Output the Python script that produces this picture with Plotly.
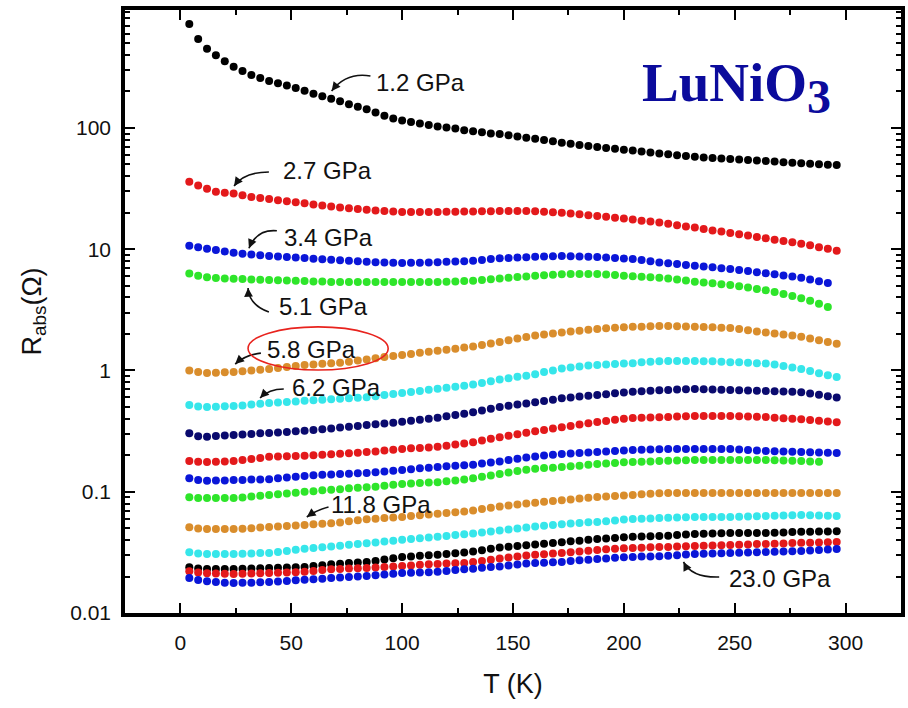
import math
import plotly.graph_objects as go

# Temperature grid (K) shared by all pressure runs
temperature_K = [
    4, 8, 12, 16, 20, 24, 28, 32, 36, 40,
    44, 48, 52, 56, 60, 64, 68, 72, 76, 80,
    84, 88, 92, 96, 100, 104, 108, 112, 116, 120,
    124, 128, 132, 136, 140, 144, 148, 152, 156, 160,
    164, 168, 172, 176, 180, 184, 188, 192, 196, 200,
    204, 208, 212, 216, 220, 224, 228, 232, 236, 240,
    244, 248, 252, 256, 260, 264, 268, 272, 276, 280,
    284, 288, 292, 296,
]

# Resistance R_abs (Ohm), one list per pressure run, highest curve first
r_1p2 = [
    720, 542, 450, 397, 355, 320, 295, 274, 258, 244,
    234, 224, 214, 203, 192, 183, 174, 166, 157, 150,
    143, 134, 126, 120, 115, 112, 109, 106, 103, 101,
    99, 96, 94, 92, 90, 89, 87, 85, 83, 81.6,
    79.6, 77.6, 75.6, 74, 72.5, 71, 69.7, 68.5, 67.4, 66.2,
    65.2, 64, 62.8, 61.6, 60.6, 59.7, 58.8, 57.9, 57.2, 56.6,
    56, 55.5, 54.9, 54.4, 53.9, 53.3, 52.8, 52.2, 51.7, 51.2,
    50.7, 50.2, 49.8, 49.4,
]
r_2p7 = [
    36, 33.5, 31.5, 29.8, 29.2, 28.8, 27.9, 27, 26.4, 25.9,
    25.4, 24.9, 24.4, 23.9, 23.4, 22.9, 22.5, 22.1, 21.8, 21.5,
    21.2, 20.9, 20.7, 20.5, 20.3, 20.3, 20.3, 20.3, 20.3, 20.4,
    20.4, 20.5, 20.5, 20.6, 20.6, 20.7, 20.7, 20.7, 20.7, 20.6,
    20.4, 20.2, 20, 19.7, 19.4, 19.1, 18.8, 18.5, 18.2, 17.9,
    17.6, 17.2, 16.9, 16.6, 16.2, 15.8, 15.4, 15.1, 14.7, 14.3,
    14, 13.6, 13.3, 13, 12.6, 12.3, 12, 11.7, 11.4, 11.1,
    10.8, 10.4, 10.1, 9.7,
]
r_3p4 = [
    10.7, 10.4, 10.1, 9.85, 9.6, 9.35, 9.2, 9.05, 8.92, 8.79,
    8.7, 8.62, 8.53, 8.45, 8.36, 8.27, 8.18, 8.11, 8.03, 7.95,
    7.87, 7.82, 7.77, 7.73, 7.71, 7.72, 7.74, 7.77, 7.82, 7.87,
    7.92, 7.97, 8.05, 8.17, 8.29, 8.41, 8.47, 8.53, 8.6, 8.65,
    8.7, 8.74, 8.78, 8.77, 8.73, 8.68, 8.63, 8.55, 8.47, 8.39,
    8.3, 8.14, 7.97, 7.79, 7.65, 7.54, 7.42, 7.31, 7.2, 7.09,
    6.98, 6.87, 6.74, 6.6, 6.47, 6.34, 6.21, 6.08, 5.96, 5.82,
    5.64, 5.45, 5.27, None,
]
r_5p1 = [
    6.3, 6.05, 5.87, 5.8, 5.75, 5.7, 5.67, 5.63, 5.6, 5.57,
    5.54, 5.52, 5.49, 5.46, 5.43, 5.41, 5.38, 5.37, 5.37, 5.37,
    5.37, 5.37, 5.37, 5.37, 5.37, 5.37, 5.37, 5.37, 5.38, 5.4,
    5.43, 5.46, 5.5, 5.58, 5.66, 5.74, 5.82, 5.89, 5.97, 6.04,
    6.11, 6.17, 6.23, 6.25, 6.25, 6.25, 6.25, 6.2, 6.12, 6.05,
    5.99, 5.93, 5.87, 5.82, 5.74, 5.63, 5.51, 5.4, 5.31, 5.23,
    5.15, 5.07, 4.95, 4.83, 4.7, 4.58, 4.43, 4.27, 4.11, 3.95,
    3.76, 3.55, 3.34, None,
]
r_5p8 = [
    1.0, 0.97, 0.955, 0.96, 0.965, 0.97, 0.985, 1.0, 1.015, 1.03,
    1.05, 1.07, 1.09, 1.11, 1.12, 1.135, 1.145, 1.16, 1.18, 1.21,
    1.235, 1.26, 1.29, 1.315, 1.34, 1.37, 1.4, 1.43, 1.455, 1.48,
    1.51, 1.545, 1.58, 1.62, 1.67, 1.72, 1.78, 1.84, 1.89, 1.94,
    1.98, 2.02, 2.06, 2.1, 2.13, 2.17, 2.2, 2.23, 2.25, 2.27,
    2.29, 2.3, 2.32, 2.33, 2.33, 2.32, 2.31, 2.29, 2.28, 2.27,
    2.25, 2.24, 2.2, 2.15, 2.1, 2.06, 2.02, 1.98, 1.94, 1.9,
    1.84, 1.78, 1.72, 1.66,
]
r_6p2 = [
    0.52, 0.505, 0.5, 0.503, 0.506, 0.509, 0.515, 0.523, 0.532, 0.54,
    0.545, 0.55, 0.556, 0.562, 0.568, 0.574, 0.58, 0.585, 0.591, 0.597,
    0.603, 0.614, 0.627, 0.64, 0.653, 0.666, 0.679, 0.693, 0.706, 0.72,
    0.735, 0.75, 0.768, 0.79, 0.815, 0.843, 0.865, 0.886, 0.907, 0.93,
    0.97, 1.0, 1.04, 1.06, 1.08, 1.1, 1.11, 1.12, 1.13, 1.14,
    1.15, 1.17, 1.18, 1.19, 1.2, 1.2, 1.2, 1.2, 1.19, 1.19,
    1.18, 1.17, 1.17, 1.16, 1.15, 1.14, 1.12, 1.09, 1.06, 1.03,
    0.99, 0.95, 0.915, 0.885,
]
r_run07 = [
    0.303, 0.287, 0.284, 0.288, 0.291, 0.294, 0.297, 0.3, 0.303, 0.305,
    0.308, 0.311, 0.315, 0.318, 0.323, 0.328, 0.333, 0.338, 0.344, 0.349,
    0.355, 0.36, 0.366, 0.371, 0.377, 0.385, 0.393, 0.4, 0.408, 0.419,
    0.429, 0.44, 0.453, 0.468, 0.484, 0.5, 0.511, 0.523, 0.534, 0.546,
    0.56, 0.575, 0.59, 0.6, 0.609, 0.618, 0.628, 0.638, 0.648, 0.658,
    0.667, 0.675, 0.682, 0.688, 0.692, 0.696, 0.7, 0.703, 0.7, 0.697,
    0.694, 0.69, 0.687, 0.683, 0.68, 0.677, 0.674, 0.67, 0.667, 0.66,
    0.645, 0.63, 0.612, 0.6,
]
r_run08 = [
    0.179, 0.177, 0.176, 0.177, 0.178, 0.179, 0.183, 0.186, 0.19, 0.194,
    0.195, 0.196, 0.197, 0.198, 0.2, 0.202, 0.204, 0.206, 0.208, 0.21,
    0.213, 0.215, 0.219, 0.222, 0.225, 0.228, 0.23, 0.232, 0.235, 0.24,
    0.245, 0.25, 0.256, 0.264, 0.273, 0.282, 0.29, 0.298, 0.307, 0.315,
    0.323, 0.332, 0.34, 0.349, 0.358, 0.367, 0.376, 0.384, 0.392, 0.4,
    0.406, 0.408, 0.41, 0.412, 0.414, 0.417, 0.42, 0.422, 0.422, 0.422,
    0.422, 0.422, 0.42, 0.417, 0.415, 0.413, 0.408, 0.404, 0.4, 0.396,
    0.39, 0.385, 0.379, 0.374,
]
r_run09 = [
    0.129, 0.125, 0.123, 0.124, 0.124, 0.125, 0.125, 0.126, 0.126, 0.127,
    0.129, 0.131, 0.133, 0.135, 0.137, 0.138, 0.139, 0.14, 0.141, 0.142,
    0.143, 0.145, 0.147, 0.149, 0.151, 0.153, 0.156, 0.158, 0.16, 0.162,
    0.164, 0.165, 0.167, 0.171, 0.174, 0.178, 0.183, 0.187, 0.192, 0.195,
    0.199, 0.202, 0.205, 0.207, 0.209, 0.211, 0.213, 0.215, 0.217, 0.219,
    0.221, 0.222, 0.223, 0.224, 0.225, 0.225, 0.225, 0.225, 0.225, 0.225,
    0.225, 0.225, 0.223, 0.221, 0.219, 0.217, 0.216, 0.215, 0.214, 0.213,
    0.212, 0.211, 0.21, 0.209,
]
r_run10 = [
    0.09, 0.0888, 0.0887, 0.0887, 0.0887, 0.0887, 0.0897, 0.0912, 0.0926, 0.094,
    0.0954, 0.0968, 0.0982, 0.0998, 0.101, 0.103, 0.104, 0.105, 0.107, 0.108,
    0.109, 0.11, 0.112, 0.114, 0.116, 0.117, 0.118, 0.119, 0.12, 0.122,
    0.124, 0.126, 0.129, 0.133, 0.136, 0.14, 0.144, 0.148, 0.152, 0.155,
    0.157, 0.158, 0.16, 0.162, 0.164, 0.167, 0.169, 0.171, 0.173, 0.175,
    0.176, 0.177, 0.178, 0.179, 0.18, 0.181, 0.182, 0.183, 0.183, 0.183,
    0.183, 0.183, 0.183, 0.183, 0.183, 0.183, 0.182, 0.181, 0.18, 0.179,
    0.178, 0.177, None, None,
]
r_11p8 = [
    0.051, 0.0497, 0.0493, 0.0493, 0.0493, 0.0493, 0.0495, 0.0501, 0.0507, 0.0512,
    0.0517, 0.0523, 0.0528, 0.0533, 0.0539, 0.0544, 0.055, 0.0557, 0.057, 0.0582,
    0.0594, 0.06, 0.0607, 0.0613, 0.062, 0.063, 0.064, 0.0649, 0.0658, 0.0668,
    0.0678, 0.0688, 0.0701, 0.0719, 0.0737, 0.0755, 0.077, 0.0785, 0.08, 0.0813,
    0.0826, 0.0839, 0.0852, 0.0865, 0.0879, 0.0892, 0.0906, 0.0915, 0.0924, 0.0933,
    0.0942, 0.0952, 0.0962, 0.0972, 0.0977, 0.0977, 0.0978, 0.0977, 0.0976, 0.0977,
    0.0978, 0.0977, 0.0977, 0.0976, 0.0977, 0.0978, 0.0977, 0.0977, 0.0976, 0.0977,
    0.0978, 0.0977, 0.0977, 0.0978,
]
r_run12 = [
    0.0317, 0.031, 0.0307, 0.0307, 0.0307, 0.0307, 0.0308, 0.031, 0.0312, 0.0313,
    0.0319, 0.0325, 0.0332, 0.0338, 0.0344, 0.0349, 0.0354, 0.0359, 0.0365, 0.037,
    0.0376, 0.0382, 0.0388, 0.0395, 0.0401, 0.0407, 0.0413, 0.0419, 0.0426, 0.0432,
    0.0439, 0.0446, 0.0453, 0.0462, 0.047, 0.0479, 0.0488, 0.0498, 0.0507, 0.0516,
    0.0524, 0.0532, 0.054, 0.0547, 0.0553, 0.0559, 0.0564, 0.0572, 0.058, 0.059,
    0.0597, 0.06, 0.0603, 0.0607, 0.061, 0.0613, 0.0616, 0.0619, 0.0619, 0.0619,
    0.0619, 0.0619, 0.0622, 0.0625, 0.0628, 0.0631, 0.0634, 0.0637, 0.0641, 0.0643,
    0.0641, 0.0638, 0.0635, 0.0632,
]
r_run13 = [
    0.0238, 0.0233, 0.0231, 0.0231, 0.0231, 0.0231, 0.0232, 0.0233, 0.0234, 0.0235,
    0.0236, 0.0237, 0.0238, 0.024, 0.0244, 0.0248, 0.0252, 0.0255, 0.0258, 0.0261,
    0.0264, 0.0269, 0.0276, 0.0283, 0.029, 0.0293, 0.0296, 0.0299, 0.0302, 0.0306,
    0.0311, 0.0315, 0.0321, 0.033, 0.0338, 0.0347, 0.0352, 0.0357, 0.0362, 0.0367,
    0.0372, 0.0378, 0.0384, 0.039, 0.0395, 0.0401, 0.0407, 0.0412, 0.0416, 0.0421,
    0.0425, 0.0427, 0.0429, 0.0431, 0.0434, 0.0439, 0.0443, 0.0448, 0.045, 0.0453,
    0.0455, 0.0457, 0.0457, 0.0457, 0.0457, 0.0457, 0.046, 0.0462, 0.0465, 0.0467,
    0.0468, 0.047, 0.0471, 0.0473,
]
r_run14 = [
    0.0221, 0.0216, 0.0213, 0.0212, 0.0211, 0.021, 0.0211, 0.0212, 0.0213, 0.0214,
    0.0215, 0.0216, 0.0217, 0.0219, 0.0222, 0.0226, 0.0229, 0.0231, 0.0233, 0.0234,
    0.0235, 0.0237, 0.024, 0.0242, 0.0244, 0.0247, 0.025, 0.0252, 0.0254, 0.0256,
    0.0257, 0.0258, 0.0263, 0.0269, 0.0275, 0.0282, 0.0287, 0.0292, 0.0298, 0.0302,
    0.0305, 0.0309, 0.0312, 0.0317, 0.0321, 0.0326, 0.0331, 0.0335, 0.0338, 0.0342,
    0.0344, 0.0346, 0.0348, 0.035, 0.0351, 0.0353, 0.0355, 0.0357, 0.0359, 0.036,
    0.0362, 0.0364, 0.0366, 0.0368, 0.037, 0.0371, 0.0373, 0.0375, 0.0377, 0.0379,
    0.038, 0.0382, 0.0384, 0.0385,
]
r_23p0 = [
    0.0194, 0.0187, 0.0183, 0.018, 0.0178, 0.0177, 0.0178, 0.0178, 0.0179, 0.018,
    0.0182, 0.0184, 0.0186, 0.0188, 0.019, 0.0192, 0.0194, 0.0196, 0.0198, 0.02,
    0.0202, 0.0205, 0.0208, 0.0211, 0.0214, 0.0215, 0.0216, 0.0217, 0.0219, 0.0222,
    0.0226, 0.0229, 0.0232, 0.0236, 0.0239, 0.0242, 0.0247, 0.0251, 0.0256, 0.0259,
    0.026, 0.0262, 0.0264, 0.0268, 0.0272, 0.0275, 0.0279, 0.0282, 0.0285, 0.0288,
    0.029, 0.0292, 0.0293, 0.0294, 0.0297, 0.03, 0.0303, 0.0306, 0.0308, 0.031,
    0.0311, 0.0313, 0.0314, 0.0316, 0.0317, 0.0318, 0.032, 0.0321, 0.0323, 0.0325,
    0.0328, 0.0331, 0.0334, 0.0337,
]

BLACK = "#000000"
RED = "#e3191b"
BLUE = "#0a16d8"
GREEN = "#2ee52a"
ORANGE = "#d98d2c"
CYAN = "#36e6ea"
NAVY = "#0a0a6e"

runs = [
    ("1.2 GPa", r_1p2, BLACK),
    ("2.7 GPa", r_2p7, RED),
    ("3.4 GPa", r_3p4, BLUE),
    ("5.1 GPa", r_5p1, GREEN),
    ("5.8 GPa", r_5p8, ORANGE),
    ("6.2 GPa", r_6p2, CYAN),
    ("run 7", r_run07, NAVY),
    ("run 8", r_run08, RED),
    ("run 9", r_run09, BLUE),
    ("run 10", r_run10, GREEN),
    ("11.8 GPa", r_11p8, ORANGE),
    ("run 12", r_run12, CYAN),
    ("run 13", r_run13, BLACK),
    ("run 14", r_run14, RED),
    ("23.0 GPa", r_23p0, BLUE),
]

# Pressure labels: text, (T, R) of the label centre
labels = [
    ("1.2 GPa", 108.3, 235),
    ("2.7 GPa", 66.4, 45),
    ("3.4 GPa", 66.8, 12.6),
    ("5.1 GPa", 64.6, 3.34),
    ("5.8 GPa", 59.2, 1.50),
    ("6.2 GPa", 70.4, 0.73),
    ("11.8 GPa", 90.4, 0.0778),
    ("23.0 GPa", 270.6, 0.0191),
]

# Curved leader arrows: start, control point, tip, each as (T, R)
leaders = [
    ((85.7, 268.5), (74.9, 290), (68.2, 202)),
    ((39.9, 43.4), (28.7, 43.4), (24.2, 33.2)),
    ((43.5, 14.2), (34.5, 14.7), (30.9, 10.2)),
    ((39.9, 3.03), (30.9, 3.47), (30.5, 4.79)),
    ((36.3, 1.39), (29.1, 1.34), (24.7, 1.13)),
    ((46.6, 0.703), (39.9, 0.703), (35.9, 0.593)),
    ((66.8, 0.0749), (61.4, 0.0708), (57.0, 0.0619)),
    ((243.0, 0.0198), (230.5, 0.0195), (226.9, 0.0264)),
]

# Highlight ellipse around the 5.8 GPa label: T range, R range
highlight_T = (30.5, 93.7)
highlight_R = (1.01, 2.29)

X_RANGE = [-25, 325]
Y_RANGE_LOG = [-2, 2.973]
PLOT_W, PLOT_H = 780, 603

fig = go.Figure()
for name, values, color in runs:
    fig.add_trace(go.Scatter(
        x=temperature_K, y=values, mode="markers", name=name,
        marker=dict(color=color, size=8, line=dict(width=0)),
        showlegend=False,
    ))

annotations = []
for text, t, r in labels:
    annotations.append(dict(
        x=t, y=math.log10(r), xref="x", yref="y", text=text, showarrow=False,
        font=dict(family="Liberation Sans, Arial, sans-serif", size=24, color="#111111"),
        xanchor="center", yanchor="middle",
    ))

px_per_K = PLOT_W / (X_RANGE[1] - X_RANGE[0])
px_per_dec = PLOT_H / (Y_RANGE_LOG[1] - Y_RANGE_LOG[0])
shapes = []
for (t0, r0), (t1, r1), (t2, r2) in leaders:
    shapes.append(dict(
        type="path", xref="x", yref="y",
        path=f"M {t0},{r0} Q {t1},{r1} {t2},{r2}",
        line=dict(color="#111111", width=1.6),
    ))
    dx = (t1 - t2) * px_per_K
    dy = -(math.log10(r1) - math.log10(r2)) * px_per_dec
    norm = math.hypot(dx, dy) or 1.0
    annotations.append(dict(
        x=t2, y=math.log10(r2), xref="x", yref="y", text="",
        showarrow=True, arrowhead=2, arrowsize=1.1, arrowwidth=1.6,
        arrowcolor="#111111", ax=dx / norm * 7, ay=dy / norm * 7, standoff=0,
    ))

shapes.append(dict(
    type="circle", xref="x", yref="y",
    x0=highlight_T[0], x1=highlight_T[1], y0=highlight_R[0], y1=highlight_R[1],
    line=dict(color="#e8231e", width=1.6),
))

# Compound name in the upper right corner, with an enlarged subscript
annotations.append(dict(
    x=0.664, y=0.872, xref="paper", yref="paper",
    text="<b>LuNiO<sub><span style=\"font-size:48px\">3</span></sub></b>",
    showarrow=False, xanchor="left", yanchor="middle",
    font=dict(family="Liberation Serif, Times New Roman, serif", size=55, color="#0b0b9c"),
))

minor_y = [m * 10 ** k for k in range(-2, 3) for m in range(2, 10)]

fig.update_layout(
    width=908, height=708,
    margin=dict(l=125, r=3, t=10, b=95),
    paper_bgcolor="white", plot_bgcolor="white",
    font=dict(family="Liberation Sans, Arial, sans-serif", color="#111111"),
    annotations=annotations, shapes=shapes,
    xaxis=dict(
        range=X_RANGE, tick0=0, dtick=50, showgrid=False, zeroline=False,
        showline=True, linewidth=3.5, linecolor="black", mirror="ticks",
        ticks="inside", ticklen=10, tickwidth=2.2, tickcolor="black",
        minor=dict(ticks="inside", ticklen=5, tickwidth=2, dtick=25, tick0=0, tickcolor="black"),
        tickfont=dict(size=21), ticklabelstandoff=8,
        title=dict(text="T (K)", font=dict(size=27), standoff=22),
    ),
    yaxis=dict(
        type="log", range=Y_RANGE_LOG, showgrid=False, zeroline=False,
        showline=True, linewidth=3.5, linecolor="black", mirror="ticks",
        tickmode="array", tickvals=[0.01, 0.1, 1, 10, 100],
        ticktext=["0.01", "0.1", "1", "10", "100"],
        ticks="inside", ticklen=10, tickwidth=2.2, tickcolor="black",
        minor=dict(ticks="inside", ticklen=5, tickwidth=2, tickmode="array",
                   tickvals=minor_y, tickcolor="black"),
        tickfont=dict(size=21), ticklabelstandoff=6,
        title=dict(text="R<sub>abs</sub>(Ω)", font=dict(size=27), standoff=22),
    ),
)

fig.write_html("out.html")
